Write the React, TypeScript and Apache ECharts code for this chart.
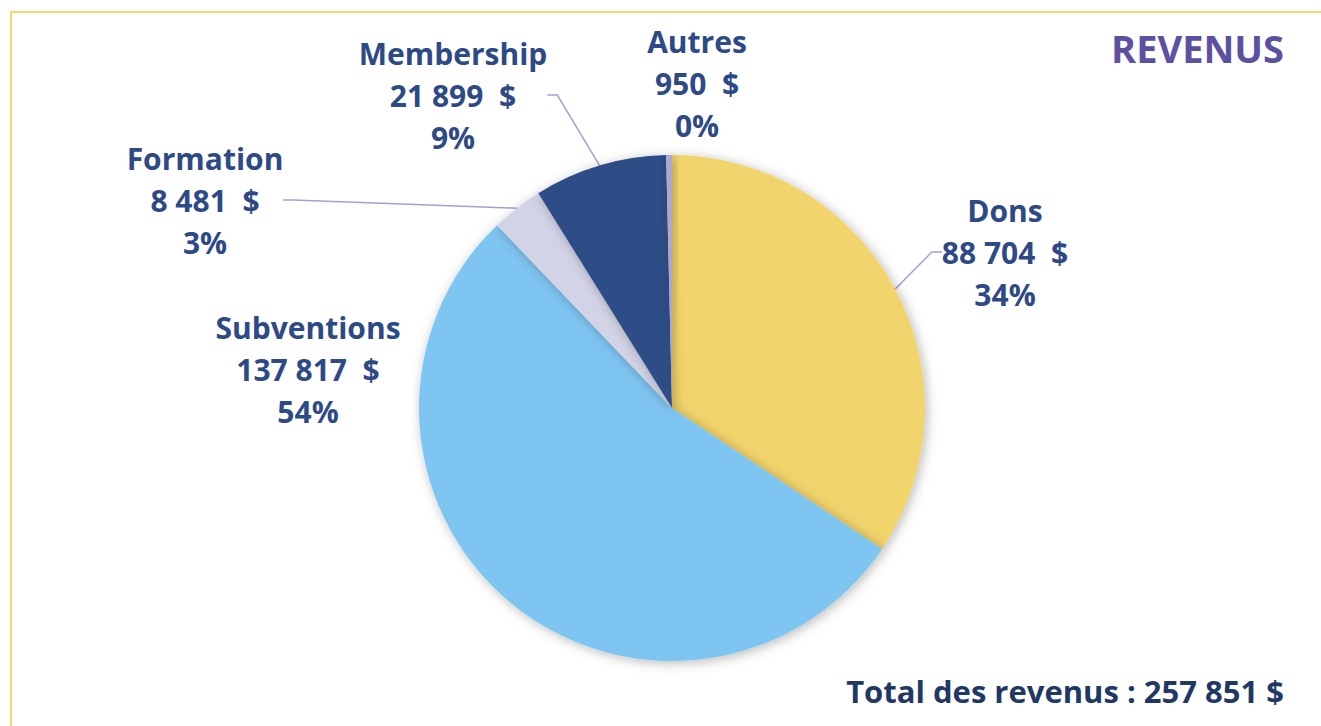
import React, { useEffect, useRef } from "react";
import * as echarts from "echarts";

const categories = ["Dons", "Subventions", "Formation", "Membership", "Autres"];
const values = [88704, 137817, 8481, 21899, 950];
const percentLabels = [34, 54, 3, 9, 0];
const sliceColors = ["#f2d46c", "#7fc5f2", "#d3d3e7", "#2f4d86", "#aea7d4"];
const showLeader = [true, false, true, true, false];
const labelPositions = [
  [1005, 252],
  [308, 369],
  [205, 200],
  [453, 95],
  [697, 83],
];
const titleText = "REVENUS";
const totalText = "Total des revenus : 257 851 $";

const fmt = (v: number) => String(v).replace(/\B(?=(\d{3})+(?!\d))/g, " ");

export default function App() {
  const ref = useRef<HTMLDivElement>(null);
  useEffect(() => {
    document.body.style.margin = "0";
    const chart = echarts.init(ref.current!, null, { renderer: "svg" });
    const font = "'Open Sans', 'Noto Sans', sans-serif";
    chart.setOption({
      animation: false,
      backgroundColor: "#ffffff",
      graphic: [
        {
          type: "rect",
          shape: { x: 11, y: 12, width: 1400, height: 800 },
          style: { fill: "none", stroke: "#f6d96c", lineWidth: 2 },
          silent: true,
        },
        {
          type: "text",
          right: 37,
          top: 29,
          style: {
            text: titleText,
            fill: "#5c50a0",
            font: `bold 38px ${font}`,
          },
        },
        {
          type: "text",
          right: 37,
          top: 675,
          style: {
            text: totalText,
            fill: "#1f3864",
            font: `bold 31px ${font}`,
          },
        },
      ],
      series: [
        {
          type: "pie",
          center: [672, 408],
          radius: [0, 253],
          startAngle: 90,
          clockwise: true,
          avoidLabelOverlap: false,
          data: categories.map((name, i) => ({
            name,
            value: values[i],
            itemStyle: { color: sliceColors[i] },
            labelLine: { show: showLeader[i] },
          })),
          itemStyle: {
            shadowBlur: 12,
            shadowColor: "rgba(0,0,0,0.28)",
            shadowOffsetX: 2,
            shadowOffsetY: 2,
          },
          label: {
            show: true,
            position: "outside",
            formatter: (p: any) =>
              `${p.name}\n${fmt(values[p.dataIndex])}  $\n${percentLabels[p.dataIndex]}%`,
            color: "#2e4a86",
            fontFamily: font,
            fontWeight: "bold",
            fontSize: 30,
            lineHeight: 42,
            align: "center",
          },
          labelLine: {
            show: true,
            length: 10,
            length2: 10,
            lineStyle: { color: "#a99fd0", width: 1.5 },
          },
          labelLayout: (params: any) => {
            const pos = labelPositions[params.dataIndex];
            return {
              x: pos[0],
              y: pos[1],
              align: "center",
              verticalAlign: "middle",
            };
          },
          emphasis: { disabled: true },
        },
      ],
    });
    return () => chart.dispose();
  }, []);
  return <div ref={ref} style={{ width: 1321, height: 726 }} />;
}
